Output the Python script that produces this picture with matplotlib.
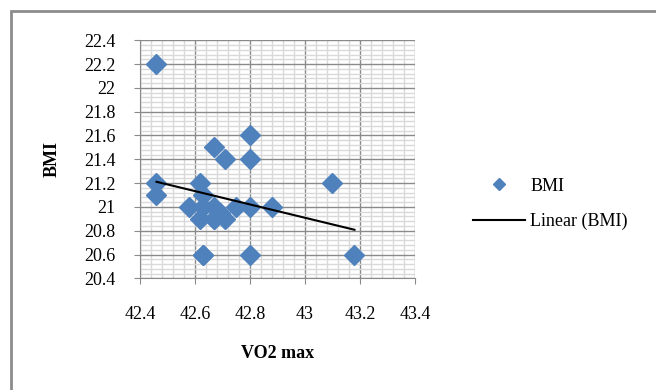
import matplotlib.pyplot as plt
import numpy as np
from matplotlib.patches import Rectangle
from matplotlib.ticker import MultipleLocator, FuncFormatter
from matplotlib.lines import Line2D

plt.rcParams['font.family'] = ['Liberation Serif', 'DejaVu Serif']

# Data
vo2 = [42.46, 42.46, 42.46, 42.58, 42.62, 42.62, 42.63, 42.63, 42.63, 42.63,
       42.67, 42.67, 42.67, 42.67, 42.69, 42.71, 42.71, 42.75, 42.80, 42.80,
       42.80, 42.80, 42.88, 43.10, 43.18]
bmi = [22.2, 21.2, 21.1, 21.0, 21.2, 20.9, 21.1, 21.0, 20.6, 20.6,
       21.5, 21.0, 20.9, 20.9, 20.95, 21.4, 20.9, 21.0, 21.6, 21.4,
       21.0, 20.6, 21.0, 21.2, 20.6]

vo2 = np.array(vo2)
bmi = np.array(bmi)

fig = plt.figure(figsize=(6.56, 3.90), dpi=100)
ax = fig.add_axes([0.2134, 0.2864, 0.4192, 0.6103])

# chart border (only left/top visible in the original)
fig.patches.append(Rectangle((11 / 656, -0.1), 1.2, 1.1 - 11.5 / 390, transform=fig.transFigure,
                             fill=False, edgecolor='#8c8c8c', linewidth=2))

ax.set_xlim(42.4, 43.4)
ax.set_ylim(20.4, 22.4)
ax.xaxis.set_major_locator(MultipleLocator(0.2))
ax.yaxis.set_major_locator(MultipleLocator(0.2))
ax.xaxis.set_minor_locator(MultipleLocator(0.04))
ax.yaxis.set_minor_locator(MultipleLocator(0.04))
fmt = FuncFormatter(lambda v, p: f"{round(v, 1):g}")
ax.xaxis.set_major_formatter(fmt)
ax.yaxis.set_major_formatter(fmt)

ax.grid(which='minor', color='#d9d9d9', linewidth=1)
ax.grid(which='major', color='#8a8a8a', linewidth=1)
ax.set_axisbelow(True)
for s in ['top', 'right']:
    ax.spines[s].set_visible(False)
for s in ['left', 'bottom']:
    ax.spines[s].set_color('#8a8a8a')
ax.tick_params(which='major', direction='out', length=4, color='#8a8a8a',
               labelsize=13)
ax.tick_params(axis='x', pad=16)
ax.tick_params(axis='y', pad=13.5)
ax.tick_params(which='minor', length=0)

ax.plot(vo2, bmi, linestyle='none', marker='D', markersize=10.5,
        color='#4f81bd', zorder=3, clip_on=False)

# linear trend
k, b = np.polyfit(vo2, bmi, 1)
xs = np.array([vo2.min(), vo2.max()])
ax.plot(xs, k * xs + b, color='black', linewidth=1.5, zorder=4)

ax.set_xlabel('VO2 max', fontsize=13, fontweight='bold', labelpad=16)
ax.set_ylabel('BMI', fontsize=13, fontweight='bold', labelpad=17)

handles = [Line2D([], [], linestyle='none', marker='D', markersize=6.5, color='#4f81bd'),
           Line2D([], [], color='black', linewidth=1.5)]
fig.legend(handles, ['BMI', 'Linear (BMI)'], loc='center left',
           bbox_to_anchor=(0.7206, 0.477), frameon=False, fontsize=13,
           handlelength=2.9, labelspacing=1.0, handletextpad=0.28,
           borderpad=0, borderaxespad=0)

fig.savefig('out.png', dpi=100)
